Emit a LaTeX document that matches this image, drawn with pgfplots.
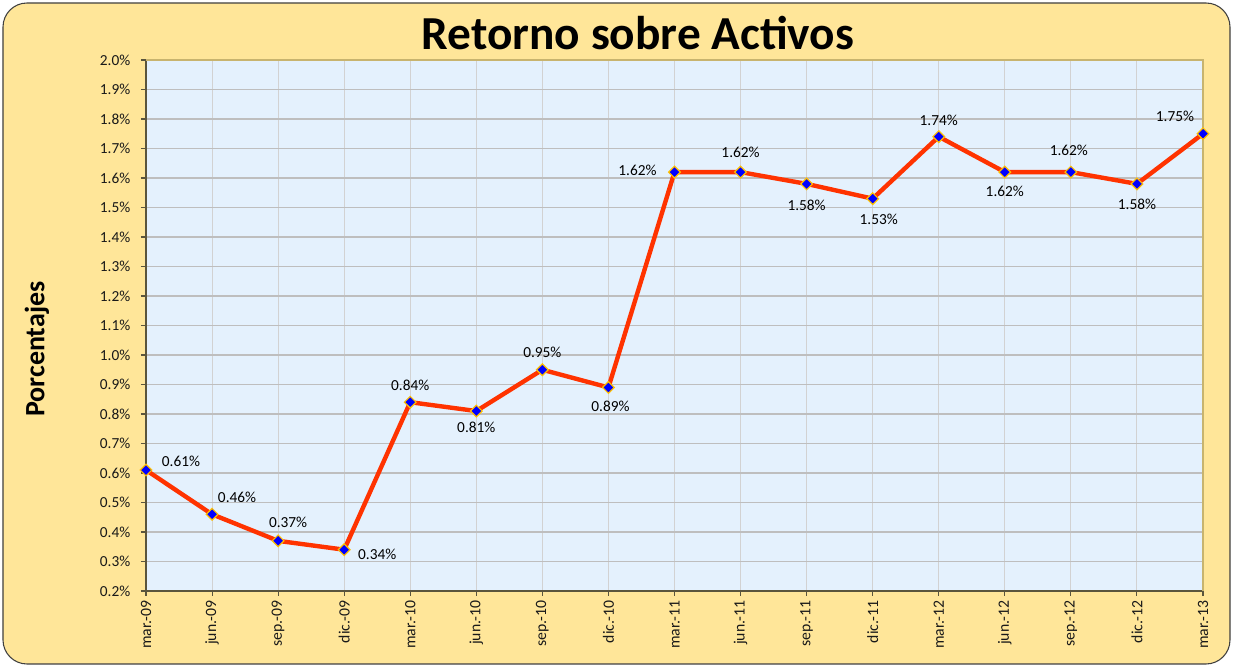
\documentclass[border=0pt]{standalone}
\usepackage{pgfplots}
\pgfplotsset{compat=1.18}
\usepackage{pgfplotstable}
\usepackage{fontspec}
\setmainfont{Carlito}
\definecolor{bgc}{RGB}{255,230,153}
\definecolor{plotbg}{RGB}{228,241,253}
\definecolor{gridh}{RGB}{190,190,190}
\definecolor{gridv}{RGB}{210,210,210}
\definecolor{linec}{RGB}{255,51,0}
\definecolor{markf}{RGB}{0,0,255}
\definecolor{markd}{RGB}{255,192,0}
\definecolor{axc}{RGB}{90,85,60}
\definecolor{bordc}{RGB}{200,180,110}

\pgfplotstableread{
x y dx dy
0 0.61 35 -9
1 0.46 25 -17
2 0.37 10 -19
3 0.34 33 5
4 0.84 0 -17
5 0.81 0 16
6 0.95 0 -17
7 0.89 2 19
8 1.62 -37 -2
9 1.62 0 -20
10 1.58 0 21
11 1.53 6 21
12 1.74 0 -16
13 1.62 0 19
14 1.62 -2 -22
15 1.58 0 20
16 1.75 -28 -17
}\roa

\begin{document}
\begin{tikzpicture}
\useasboundingbox (-109.5pt,-57pt) rectangle (815.25pt,443.25pt);
\draw[fill=bgc, draw=black!75, line width=0.8pt, rounded corners=18pt] (-107.25pt,-54.75pt) rectangle (813pt,441pt);
\begin{axis}[
  at={(0pt,0pt)}, anchor=south west,
  width=792.75pt, height=398.25pt, scale only axis,
  xmin=0, xmax=16, ymin=0.2, ymax=2.0,
  clip=false,
  /pgf/number format/assume math mode=true,
  axis background/.style={fill=plotbg},
  axis x line*=bottom, axis y line*=left,
  axis line style={axc, line width=0.9pt},
  tick align=outside,
  major tick length=3.75pt,
  tick style={axc, line width=0.8pt},
  xmajorgrids, ymajorgrids,
  x grid style={gridv, line width=0.75pt},
  y grid style={gridh, line width=1.1pt},
  xtick={0,...,16},
  xticklabels={mar.-09,jun.-09,sep.-09,dic.-09,mar.-10,jun.-10,sep.-10,dic.-10,mar.-11,jun.-11,sep.-11,dic.-11,mar.-12,jun.-12,sep.-12,dic.-12,mar.-13},
  xticklabel style={rotate=90, anchor=east, font=\fontsize{11.8}{13}\selectfont, text=black!90},
  ytick={0.2,0.3,...,2.05},
  yticklabel={\pgfmathprintnumber[fixed,fixed zerofill,precision=1]{\tick}\%},
  yticklabel style={font=\fontsize{11.5}{13}\selectfont, text=black!90, xshift=-4.5pt},
]
\addplot[linec, line width=3.3pt, mark=square*, mark size=3.1pt,
  mark options={fill=markf, draw=markd, line width=0.9pt, rotate=45},
  point meta=\thisrow{y},
  visualization depends on={\thisrow{dx}\as\dx},
  visualization depends on={\thisrow{dy}\as\dy},
  nodes near coords={\pgfmathprintnumber[fixed,fixed zerofill,precision=2]{\pgfplotspointmeta}\%},
  every node near coord/.append style={anchor=center, inner sep=0pt, text=black,
    font=\fontsize{11.5}{13}\selectfont, xshift={0.75pt*\dx}, yshift={-0.75pt*\dy}},
] table[x=x,y=y] {\roa};
\draw[bordc, line width=0.8pt] (rel axis cs:0,1) -- (rel axis cs:1,1) -- (rel axis cs:1,0);
\end{axis}
\node[anchor=base, font=\fontsize{35.5}{40}\selectfont\bfseries] at (369pt,405.75pt) {Retorno sobre Activos};
\node[rotate=90, font=\fontsize{21}{24}\selectfont\bfseries] at (-81.75pt,181.5pt) {Porcentajes};
\end{tikzpicture}
\end{document}
